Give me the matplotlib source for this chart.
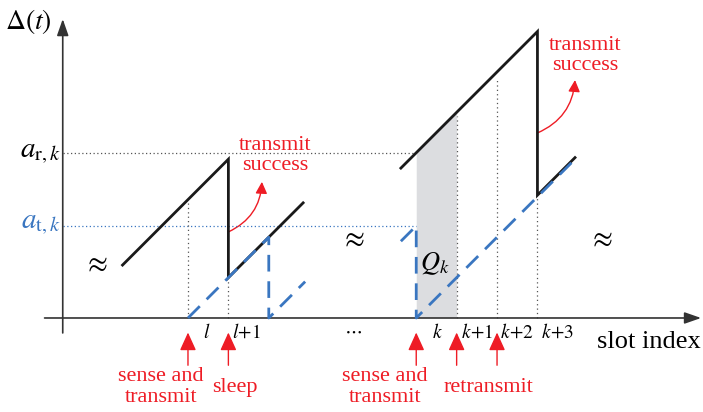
import matplotlib
matplotlib.use("Agg")
import matplotlib.pyplot as plt
from matplotlib.patches import FancyArrowPatch

plt.rcParams['font.family'] = ['Liberation Serif', 'DejaVu Serif']
plt.rcParams['mathtext.fontset'] = 'stix'

# ---- data (slot units: l = 0, one slot = 1; age units equal slot units) ----
K = 5.65                      # position of slot k
AXIS_X0, AXIS_X1 = -3.55, 12.7
YAXIS_X, YAXIS_Y0, YAXIS_Y1 = -3.1, -0.37, 7.4

# receiver age (black, solid)
age_r_left_x = [-1.62, 1.0, 1.0, 2.85]
age_r_left_y = [1.31, 3.93, 1.0, 2.85]
age_r_right_x = [5.27, 8.65, 8.65, 9.58]
age_r_right_y = [3.71, 7.09, 3.04, 3.97]

# transmitter age (blue, dashed)
age_t_left_x = [0.0, 2.0, 2.0, 2.9]
age_t_left_y = [0.0, 2.0, 0.0, 0.9]
age_t_right_x = [5.27, K, K, 9.58]
age_t_right_y = [1.9, 2.28, 0.0, 3.93]

a_r_k = 4.09
a_t_k = 2.28

# dotted slot boundaries: (x, top)
slot_lines = [(0.0, 2.93), (1.0, 1.0), (K + 1, 5.0), (K + 2, 5.95), (K + 3, 3.04)]

tick_pos = [0.47, 1.45, K + 0.52, K + 1.5, K + 2.5, K + 3.5]
tick_labels = [r'$l$', r'$l\!+\!1$', r'$k$', r'$k\!+\!1$', r'$k\!+\!2$', r'$k\!+\!3$']

# red event arrows
event_x = [0.0, 1.0, K, K + 1, K + 2]
event_bottom = -1.17
event_labels = [(-0.67, -1.7, 'sense and\ntransmit'), (1.16, -1.73, 'sleep'),
                (4.88, -1.7, 'sense and\ntransmit'), (7.45, -1.73, 'retransmit')]

approx_pos = [(-2.3, 1.31), (4.06, 1.93), (10.2, 1.93)]

success_text = [(2.15, 4.03), (9.83, 6.5)]
success_arrow = [((1.0, 2.13), (1.83, 3.37)), ((8.65, 4.58), (9.58, 5.89))]

BLUE = '#3a76c0'
RED = '#ee1c25'

fig = plt.figure(figsize=(7.03, 4.12), dpi=100)
ax = fig.add_axes([0, 0, 1, 1])
ax.set_xlim(-4.653, 12.748)
ax.set_ylim(-2.327, 7.871)
ax.set_axis_off()

# shaded Q_k region
ax.fill_between([K, K + 1], [0, 0], [a_r_k, a_r_k + 1], color='#dcdde0', lw=0, zorder=0)

# axes with arrows
ax.annotate('', xy=(AXIS_X1, 0), xytext=(AXIS_X0, 0),
            arrowprops=dict(arrowstyle='-|>,head_length=1.0,head_width=0.35',
                            color='#333333', lw=1.2, shrinkA=0, shrinkB=0))
ax.annotate('', xy=(YAXIS_X, YAXIS_Y1), xytext=(YAXIS_X, YAXIS_Y0),
            arrowprops=dict(arrowstyle='-|>,head_length=1.0,head_width=0.35',
                            color='#333333', lw=1.2, shrinkA=0, shrinkB=0))

# dotted guides
ax.plot([YAXIS_X, K - 0.02], [a_r_k, a_r_k], ls=(0, (1, 2)), color='#555555', lw=0.9)
ax.plot([YAXIS_X, K], [a_t_k, a_t_k], ls=(0, (1, 2)), color=BLUE, lw=0.9)
for sx, top in slot_lines:
    ax.plot([sx, sx], [0, top], ls=(0, (1, 2.5)), color='#555555', lw=0.9)

# age curves
ax.plot(age_r_left_x, age_r_left_y, color='#1a1a1a', lw=2.0, solid_joinstyle='miter', zorder=3)
ax.plot(age_r_right_x, age_r_right_y, color='#1a1a1a', lw=2.0, solid_joinstyle='miter', zorder=3)
ax.plot(age_t_left_x, age_t_left_y, color=BLUE, lw=2.0, ls=(0, (6, 3.5)), zorder=4)
ax.plot(age_t_right_x, age_t_right_y, color=BLUE, lw=2.0, ls=(0, (6, 3.5)), zorder=4)

# labels
ax.text(-3.95, 7.33, r'$\Delta(t)$', fontsize=20, ha='center', va='center')
ax.text(-3.15, a_r_k, r'$a_{\mathrm{r},k}$', fontsize=21, ha='right', va='center')
ax.text(-3.15, a_t_k + 0.05, r'$a_{\mathrm{t},k}$', fontsize=21, ha='right', va='center', color=BLUE)
ax.text(K + 0.45, 1.35, r'$Q_k$', fontsize=19, ha='center', va='center')
for px, py in approx_pos:
    ax.text(px, py, r'$\approx$', fontsize=21, ha='center', va='center')
for tx, tl in zip(tick_pos, tick_labels):
    ax.text(tx, -0.37, tl, fontsize=14, ha='center', va='center')
ax.text(4.08, -0.33, r'$\cdots$', fontsize=14, ha='center', va='center')
ax.text(11.42, -0.6, 'slot index', fontsize=19, ha='center', va='center')

# red event arrows and labels
for ex in event_x:
    ax.annotate('', xy=(ex, -0.36), xytext=(ex, event_bottom),
                arrowprops=dict(arrowstyle='-|>,head_length=1.1,head_width=0.5',
                                color=RED, lw=1.0, shrinkA=0, shrinkB=0))
for lx, ly, txt in event_labels:
    ax.text(lx, ly, txt, fontsize=16, color=RED, ha='center', va='center', linespacing=1.15)

for (sx, sy), (start, end) in zip(success_text, success_arrow):
    ax.text(sx, sy, 'transmit\nsuccess', fontsize=16, color=RED, ha='center', va='center',
            linespacing=1.05)
    ax.add_patch(FancyArrowPatch(start, end, connectionstyle='arc3,rad=0.3',
                                 arrowstyle='-|>,head_length=7,head_width=3.5',
                                 color=RED, lw=1.0, shrinkA=0, shrinkB=0))

fig.savefig('out.png', dpi=100)
